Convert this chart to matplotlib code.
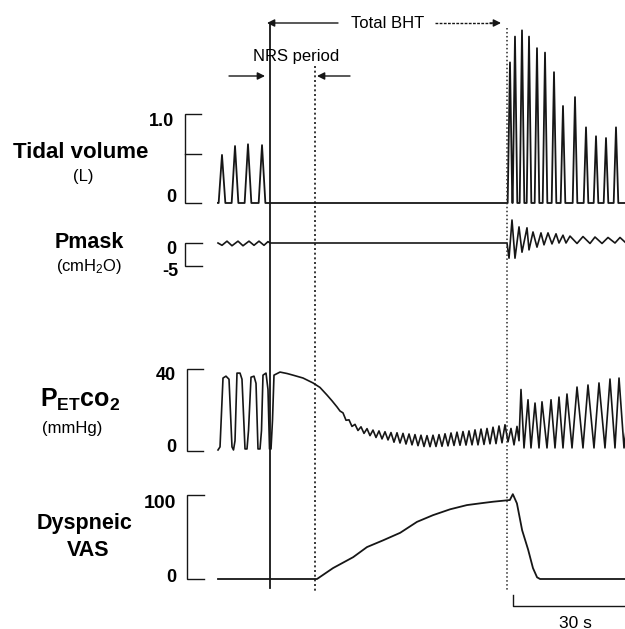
import matplotlib
matplotlib.use('Agg')
import matplotlib.pyplot as plt

plt.rcParams['font.family'] = ['Liberation Sans', 'DejaVu Sans']
plt.rcParams['mathtext.fontset'] = 'custom'
plt.rcParams['mathtext.rm'] = 'Liberation Sans'
plt.rcParams['mathtext.bf'] = 'Liberation Sans:bold'
plt.rcParams['mathtext.it'] = 'Liberation Sans:italic'

# ---------------- data (time in s, 0 = start of breath hold) ----------------
hold_start = 0.0
nrs_end = 12.1
bht_end = 63.5
trace_start = -13.94
trace_end = 95.17
scale_bar_start = 65.1
scale_bar_s = 30

# Tidal volume (L): breath peak times and amplitudes
tv_pre_t = [-12.87, -9.38, -5.90, -2.14]
tv_pre_amp = [0.54, 0.64, 0.66, 0.65]
tv_post_t = [64.34, 65.68, 67.56, 69.44, 71.58, 73.73, 76.14, 78.55, 81.77,
             84.72, 87.40, 90.08, 92.76]
tv_post_amp = [1.58, 1.87, 1.94, 1.87, 1.74, 1.69, 1.47, 1.09, 1.19,
               0.85, 0.75, 0.73, 0.85]

# Pmask (cmH2O)
pm_t = [-13.94, -12.87, -11.53, -10.19, -8.58, -7.24, -5.63, -4.29, -2.95, -1.61, -0.54, 0.0,
        63.54, 64.08, 64.88, 65.68, 66.76, 67.56, 68.90, 69.44, 70.51, 71.58, 72.65, 73.46,
        74.53, 75.60, 76.68, 77.48, 78.55, 79.36, 80.43, 82.31, 83.91, 85.79, 87.13, 89.01,
        90.62, 92.49, 93.83, 95.17]
pm_v = [0, -0.5, 0.4, -0.6, 0.4, -0.6, 0.4, -0.5, 0.4, -0.5, 0.3, 0,
        0, -3.3, 5.0, -3.3, 3.5, -2.0, 3.3, -1.5, 2.4, -0.9, 2.2, -0.4,
        2.2, -0.2, 2.0, 0.0, 1.7, 0.0, 1.5, -0.1, 1.4, -0.1, 1.3, -0.1,
        1.2, 0.0, 1.2, 0.2]

# PETCO2 (mmHg)
et_t = [-13.94, -13.40, -12.60, -11.80, -10.99, -10.19, -9.79, -9.38, -8.85, -8.04, -7.51,
        -6.70, -6.17, -5.76, -5.09, -4.29, -3.75, -3.22, -2.68, -2.28, -1.88, -1.07, -0.54,
        -0.13, 0.27, 0.67, 1.07, 2.68, 4.56, 6.17, 8.85, 11.53, 13.40, 15.28, 16.62, 17.96,
        18.77,
        19.57, 20.38, 21.18, 21.98, 22.79, 23.59, 24.40, 25.20, 26.01, 26.81, 27.61, 28.42,
        29.22, 30.03, 30.83, 31.64, 32.44, 33.24, 34.05, 34.85, 35.66, 36.46, 37.27, 38.07,
        38.87, 39.68, 40.48, 41.29, 42.09, 42.90, 43.70, 44.50, 45.31, 46.11, 46.92, 47.72,
        48.53, 49.33, 50.13, 50.94, 51.74, 52.55, 53.35, 54.16, 54.96, 55.76, 56.57, 57.37,
        58.18, 58.98, 59.79, 60.59, 61.39, 62.20, 63.00, 63.81,
        64.61, 65.42, 66.22, 66.76, 67.29, 68.10, 69.17, 69.97, 71.05, 72.12, 72.92, 74.26,
        75.34, 76.41, 77.48, 78.55, 79.62, 80.97, 82.31, 83.91, 85.25, 86.86, 88.20, 89.81,
        91.15, 92.49, 93.57, 94.91, 95.44]
et_v = [0.5, 2, 35.6, 36.5, 35, 2, 0.5, 5, 38, 38, 35,
        1, 1, 10, 36, 36.5, 33, 1, 1, 10, 37, 38, 30,
        1, 1, 15, 37, 38.5, 37.8, 37, 35.6, 33.2, 31, 27.3, 24.5, 21.5,
        19.5,
        18.6, 15.0, 15.2, 12.0, 13.0, 10.0, 11.8, 8.6, 10.9, 7.5, 10.2, 6.6,
        9.8, 5.9, 9.4, 5.4, 9.0, 4.3, 8.9, 3.9, 8.6, 3.4, 8.3, 3.0,
        8.0, 2.6, 7.7, 2.2, 7.5, 2.1, 7.7, 2.2, 8.0, 2.3, 8.4, 2.5,
        8.8, 2.7, 9.2, 2.8, 9.5, 2.9, 9.8, 3.0, 10.3, 3.0, 10.7, 3.2,
        11.0, 3.5, 11.6, 3.6, 12.2, 4.0, 12.8, 4.5,
        11, 3, 12, 5, 30, 1.5, 25, 1.5, 23.4, 1.5, 24, 1.5,
        25, 1.5, 26.3, 1.5, 27.8, 1.5, 31.2, 1.5, 32.2, 1.5, 33.2, 1.5,
        35.1, 1.5, 35.6, 1.5, 10]

# Dyspneic VAS
vas_t = [-13.94, 12.6, 16.9, 22.3, 26.0, 30.3, 34.9, 39.4, 43.7, 48.3, 52.8, 57.1,
         59.8, 64.3, 65.1, 66.2, 67.6, 69.2, 70.5, 71.6, 72.4, 95.17]
vas_v = [0, 0, 13, 26, 38, 46, 55, 68, 76, 83, 88, 90.5,
         92, 94, 101, 90, 58, 35, 13, 2, 0, 0]

# ---------------- layout ----------------
W, H = 625, 629
T0_PX = 270.0
PX_PER_S = 3.73
LC = '#161616'
LW = 1.2


def tx(px):
    return (px - T0_PX) / PX_PER_S


XLIM = (tx(0), tx(W))

fig = plt.figure(figsize=(W / 100, H / 100), dpi=100)
fig.patch.set_facecolor('white')


def channel_axes(top_px, bot_px, y_a, v_a, y_b, v_b):
    ax = fig.add_axes([0, 1 - bot_px / H, 1, (bot_px - top_px) / H])
    k = (v_b - v_a) / (y_b - y_a)
    ax.set_ylim(v_a + (bot_px - y_a) * k, v_a + (top_px - y_a) * k)
    ax.set_xlim(*XLIM)
    ax.axis('off')
    ax.patch.set_alpha(0)
    return ax


def bracket(ax, x0px, x1px, lo, hi, mids=()):
    ax.plot([tx(x1px), tx(x0px), tx(x0px), tx(x1px)], [lo, lo, hi, hi],
            color=LC, lw=1.0, clip_on=False, solid_joinstyle='miter')
    for m in mids:
        ax.plot([tx(x0px), tx(x1px)], [m, m], color=LC, lw=1.0, clip_on=False)


def breath_trace(times, amps, hw):
    xs, ys = [], []
    for t, a in zip(times, amps):
        xs += [t - hw, t, t + hw]
        ys += [0, a, 0]
    return xs, ys


# Tidal volume
ax_tv = channel_axes(20, 215, 203, 0.0, 114, 1.0)
x1, y1 = breath_trace(tv_pre_t, tv_pre_amp, 0.9)
x2, y2 = breath_trace(tv_post_t, tv_post_amp, 0.62)
ax_tv.plot([trace_start] + x1 + x2 + [trace_end], [0] + y1 + y2 + [0],
           color=LC, lw=1.3, clip_on=False)
bracket(ax_tv, 185, 201, 0.0, 1.0, mids=[0.55])

# Pmask
ax_pm = channel_axes(215, 275, 243, 0.0, 266, -5.0)
ax_pm.plot(pm_t, pm_v, color=LC, lw=LW, clip_on=False)
bracket(ax_pm, 185, 202, 0.0, -5.0)

# PETCO2
ax_et = channel_axes(360, 460, 451, 0.0, 369, 40.0)
ax_et.plot(et_t, et_v, color=LC, lw=LW, clip_on=False)
bracket(ax_et, 187, 203, 0.0, 40.0)

# VAS
ax_vas = channel_axes(485, 590, 579, 0.0, 495, 100.0)
ax_vas.plot(vas_t, vas_v, color=LC, lw=1.3, clip_on=False)
bracket(ax_vas, 187, 204, 0.0, 100.0)

# Overlay for events and annotations (y in pixels)
ov = fig.add_axes([0, 0, 1, 1])
ov.set_xlim(*XLIM)
ov.set_ylim(H, 0)
ov.axis('off')
ov.patch.set_alpha(0)

ov.plot([hold_start, hold_start], [23, 588], color=LC, lw=1.3)
ov.plot([nrs_end, nrs_end], [66, 593], color=LC, lw=1.2, linestyle=(0, (1.2, 1.6)))
ov.plot([bht_end, bht_end], [28, 590], color='#2a2a2a', lw=1.1, linestyle=(0, (1.0, 1.6)))

arrow = dict(arrowstyle='-|>', color=LC, lw=1.0, mutation_scale=11, shrinkA=0, shrinkB=0)
# Total BHT
ov.annotate('', xy=(tx(267), 23), xytext=(tx(338), 23), arrowprops=arrow)
ov.plot([tx(435), tx(492)], [23, 23], color=LC, lw=1.0, linestyle=(0, (2.0, 1.0)))
ov.annotate('', xy=(tx(501), 23), xytext=(tx(490), 23), arrowprops=arrow)
ov.text(tx(388), 23, 'Total BHT', ha='center', va='center', fontsize=12)
# NRS period
ov.text(tx(296), 57, 'NRS period', ha='center', va='center', fontsize=12)
ov.annotate('', xy=(tx(265), 76), xytext=(tx(229), 76), arrowprops=arrow)
ov.annotate('', xy=(tx(317), 76), xytext=(tx(350), 76), arrowprops=arrow)

# Channel labels
ov.text(tx(81), 153, 'Tidal volume', ha='center', va='center', fontsize=16, fontweight='bold')
ov.text(tx(83), 176, '(L)', ha='center', va='center', fontsize=12)
ov.text(tx(89), 242, 'Pmask', ha='center', va='center', fontsize=15.5, fontweight='bold')
ov.text(tx(89), 266, '(cmH$_2$O)', ha='center', va='center', fontsize=12)
ov.text(tx(80), 400, r'P$_{\mathbf{ET}}$co$_{\mathbf{2}}$', ha='center', va='center',
        fontsize=18, fontweight='bold')
ov.text(tx(72), 428, '(mmHg)', ha='center', va='center', fontsize=12)
ov.text(tx(85), 523, 'Dyspneic', ha='center', va='center', fontsize=15.5, fontweight='bold')
ov.text(tx(88), 550, 'VAS', ha='center', va='center', fontsize=15.5, fontweight='bold')

# Scale labels
for txt, xr, yc, fs in [('1.0', 174, 122, 13), ('0', 176, 197, 13),
                        ('0', 176, 249, 13), ('-5', 178, 271, 13),
                        ('40', 176, 375, 13), ('0', 176, 447, 13),
                        ('100', 176, 504, 14), ('0', 176, 577, 13)]:
    ov.text(tx(xr), yc, txt, ha='right', va='center', fontsize=fs, fontweight='bold')

# 30 s scale bar
ov.plot([scale_bar_start, scale_bar_start, scale_bar_start + scale_bar_s],
        [595, 606, 606], color=LC, lw=1.0, clip_on=False)
ov.text(tx(575), 623, '%d s' % scale_bar_s, ha='center', va='center', fontsize=12.5)

fig.savefig('out.png', dpi=100, facecolor='white')
